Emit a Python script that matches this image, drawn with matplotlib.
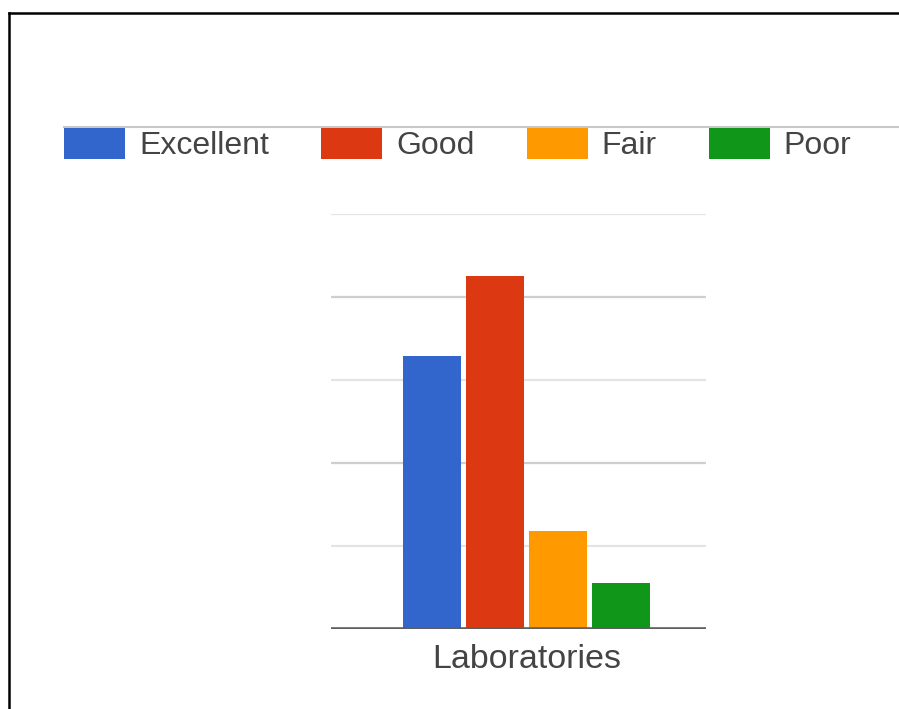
import matplotlib
matplotlib.use("Agg")
import matplotlib.pyplot as plt
from matplotlib.lines import Line2D
from matplotlib.patches import Patch

plt.rcParams['font.family'] = ['Liberation Sans', 'DejaVu Sans']

categories = ["Laboratories"]
series = ["Excellent", "Good", "Fair", "Poor"]
values = [3.29, 4.25, 1.18, 0.55]
colors = ["#3366cc", "#dc3912", "#ff9900", "#109618"]

W, H = 899, 709
fig = plt.figure(figsize=(W / 100, H / 100), dpi=100)
fig.patch.set_facecolor("white")

ax = fig.add_axes([331 / W, (H - 629) / H, (706 - 331) / W, (629 - 214) / H])

step = 0.25
width = 0.23
for i, (name, v, c) in enumerate(zip(series, values, colors)):
    ax.bar(0 + (i - 1.5) * step, v, width=width, color=c, label=name, zorder=2)

ax.set_xlim(-0.776, 0.712)
ax.set_ylim(0, 5)
ax.set_yticks([1, 2, 3, 4, 5])
ax.set_yticklabels([])
ax.tick_params(axis='y', length=0)
for y in [1, 2, 3, 4, 5]:
    col = "#cfcfcf" if y in (2, 4) else "#e4e4e4"
    ax.axhline(y, color=col, lw=1.6, zorder=1)
ax.axhline(0, color="#5f5f5f", lw=2.6, zorder=3)
for s in ax.spines.values():
    s.set_visible(False)
ax.set_xticks([0])
ax.set_xticklabels(categories, fontsize=24.5, color="#444444")
ax.tick_params(axis='x', length=0, pad=11)

# legend line
fig.add_artist(Line2D([64 / W, 1.0], [(H - 127) / H] * 2, color="#c8c8c8", lw=1.5, zorder=0))

handles = [Patch(facecolor=c, edgecolor='none') for c in colors]
leg = fig.legend(handles, series, loc='upper left', bbox_to_anchor=(64 / W, (H - 128) / H),
                 ncol=4, frameon=False, fontsize=23, handlelength=1.91, handleheight=1.1,
                 handletextpad=0.44, columnspacing=1.63, borderpad=0, borderaxespad=0)
for t in leg.get_texts():
    t.set_color("#444444")
leg.set_zorder(5)

# border
fig.add_artist(Line2D([9 / W, 1.0], [(H - 13) / H] * 2, color="black", lw=1.8))
fig.add_artist(Line2D([9 / W, 9 / W], [0, (H - 13) / H], color="black", lw=1.8))

fig.savefig("out.png", dpi=100, facecolor="white")
